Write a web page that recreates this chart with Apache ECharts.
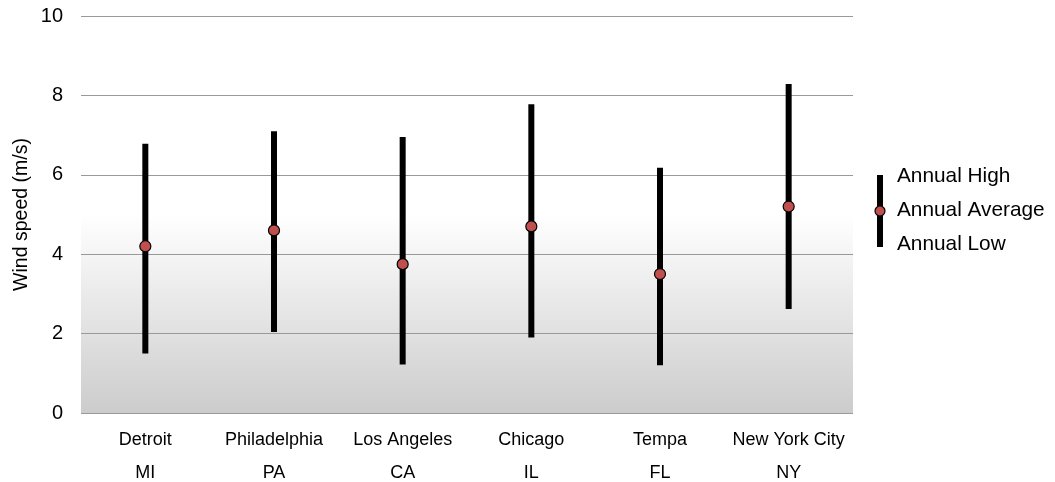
<!DOCTYPE html>
<html>
<head>
<meta charset="utf-8">
<script src="https://cdn.jsdelivr.net/npm/echarts@6/dist/echarts.min.js"></script>
<style>html,body{margin:0;padding:0;background:#fff}#c{width:1055px;height:482px}</style>
</head>
<body>
<div id="c"></div>
<script>
const cities = ['Detroit','Philadelphia','Los Angeles','Chicago','Tempa','New York City'];
const states = ['MI','PA','CA','IL','FL','NY'];
const annualHigh = [6.78, 7.1, 6.95, 7.78, 6.18, 8.29];
const annualLow = [1.5, 2.04, 1.22, 1.9, 1.2, 2.62];
const annualAverage = [4.2, 4.6, 3.75, 4.7, 3.5, 5.2];
const yTicks = [0, 2, 4, 6, 8, 10];
const legendLabels = ['Annual High', 'Annual Average', 'Annual Low'];

const categories = cities.map((c, i) => c + '\n' + states[i]);
const font = 'Liberation Sans, Arial, sans-serif';

const chart = echarts.init(document.getElementById('c'));
chart.setOption({
  animation: false,
  grid: {
    left: 81, right: 202, top: 16, bottom: 69, show: true, borderWidth: 0,
    outerBoundsMode: 'none', containLabel: false,
    backgroundColor: {
      type: 'linear', x: 0, y: 0, x2: 0, y2: 1,
      colorStops: [
        {offset: 0, color: '#ffffff'},
        {offset: 0.5, color: '#ffffff'},
        {offset: 1, color: '#cccccc'}
      ]
    }
  },
  xAxis: {
    type: 'category',
    data: categories,
    axisLine: {show: false},
    axisTick: {show: false},
    axisLabel: {
      color: '#000', fontFamily: font, fontSize: 18, lineHeight: 33, margin: 11, interval: 0
    }
  },
  yAxis: {
    type: 'value', min: yTicks[0], max: yTicks[yTicks.length - 1], interval: 2,
    name: 'Wind speed (m/s)', nameLocation: 'middle', nameGap: 49, nameMoveOverlap: false,
    nameTextStyle: {color: '#000', fontFamily: font, fontSize: 19.5},
    axisLine: {show: false}, axisTick: {show: false},
    axisLabel: {color: '#000', fontFamily: font, fontSize: 20, margin: 18},
    splitLine: {lineStyle: {color: '#999', width: 1}}
  },
  series: [
    {
      type: 'custom',
      name: 'range',
      data: annualLow.map((l, i) => [i, l, annualHigh[i]]),
      encode: {x: 0, y: [1, 2]},
      renderItem: function (params, api) {
        const lo = api.coord([api.value(0), api.value(1)]);
        const hi = api.coord([api.value(0), api.value(2)]);
        const w = 6;
        return {
          type: 'rect',
          shape: {x: lo[0] - w / 2, y: hi[1], width: w, height: lo[1] - hi[1]},
          style: {fill: '#000'}
        };
      },
      z: 2
    },
    {
      type: 'scatter',
      name: 'Annual Average',
      data: annualAverage,
      symbol: 'circle',
      symbolSize: 11,
      itemStyle: {color: '#c0504d', borderColor: '#000', borderWidth: 1.2, opacity: 1},
      z: 3
    }
  ],
  graphic: [
    {type: 'rect', x: 877, y: 175, shape: {width: 6, height: 72}, style: {fill: '#000'}},
    {type: 'circle', shape: {cx: 880, cy: 211, r: 5}, style: {fill: '#c0504d', stroke: '#000', lineWidth: 1.2}}
  ].concat(legendLabels.map((t, i) => ({
    type: 'text', x: 897, y: 176 + i * 34,
    style: {text: t, fill: '#000', font: '20.8px ' + font, verticalAlign: 'middle', align: 'left'}
  })))
});
</script>
</body>
</html>
